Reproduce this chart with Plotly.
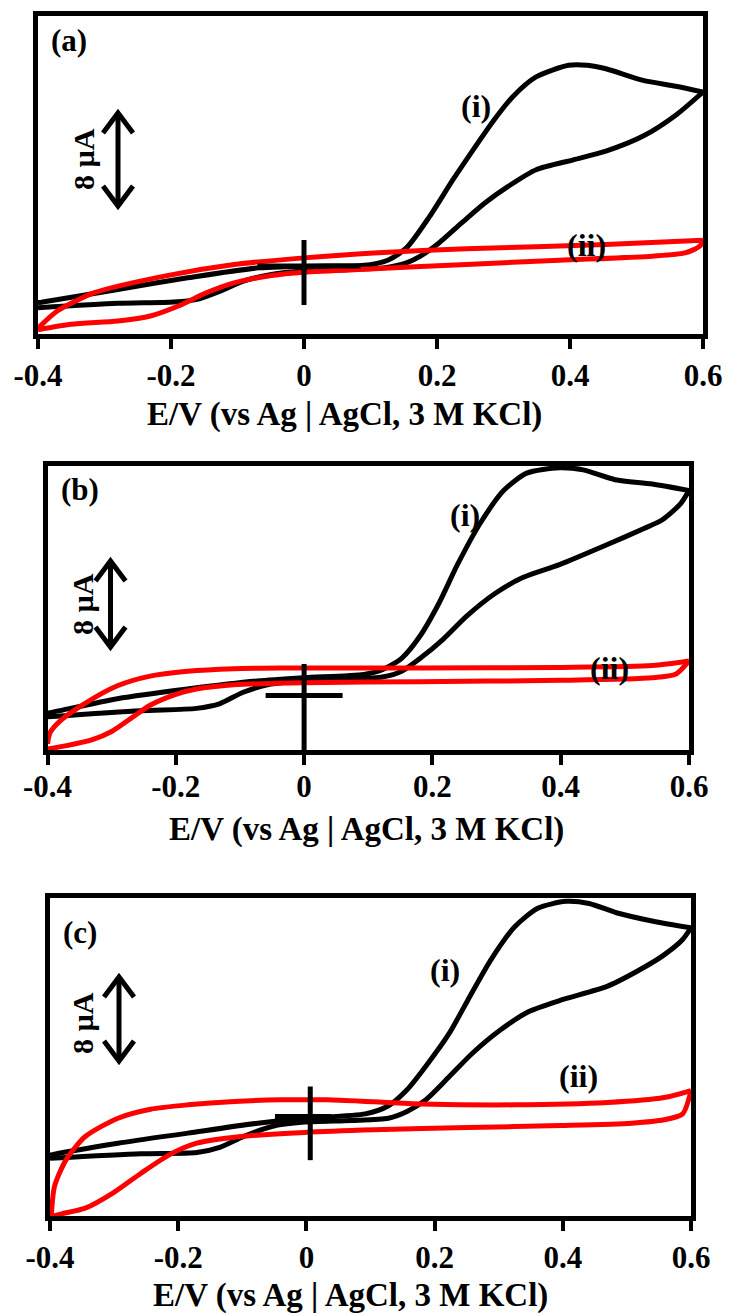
import plotly.graph_objects as go

W, H = 732, 1315
FONT = "Liberation Serif, Times New Roman, serif"

TICK_VALS = [-0.4, -0.2, 0, 0.2, 0.4, 0.6]
TICK_TEXT = ["-0.4", "-0.2", "0", "0.2", "0.4", "0.6"]
X_TITLE = "E/V (vs Ag | AgCl, 3 M KCl)"
PANEL_TAGS = ["(a)", "(b)", "(c)"]
CURVE_TAGS = ["(i)", "(ii)"]
SCALE_TEXT = "8 µA"

# ---------------- panel (a) ----------------
# curve (i): anodic sweep -0.4 -> 0.6 V, then return sweep
a_i_E_fwd = [-0.4, -0.395, -0.28, -0.175, -0.068, 0.035, 0.087, 0.126, 0.154, 0.189,
             0.224, 0.251, 0.286, 0.314, 0.349, 0.398, 0.426, 0.454, 0.51, 0.559, 0.6]
a_i_I_fwd = [-3.15, -3.12, -2.02, -1.02, -0.16, 0.0, 0.04, 0.5, 1.56, 4.28,
             7.44, 9.73, 12.6, 14.6, 16.3, 17.3, 17.3, 17.0, 16.0, 15.5, 15.0]
a_i_E_rev = [0.6, 0.559, 0.51, 0.454, 0.405, 0.349, 0.307, 0.272, 0.237, 0.203, 0.175,
             0.154, 0.119, 0.07, 0.0, -0.049, -0.091, -0.126, -0.161, -0.196, -0.28, -0.4]
a_i_I_rev = [15.0, 13.0, 11.2, 9.9, 9.15, 8.3, 6.86, 5.43, 3.71, 1.99, 0.85,
             0.27, -0.16, -0.3, -0.44, -0.73, -1.3, -2.16, -2.88, -3.11, -3.22, -3.6]
# curve (ii)
a_ii_E_rev = [0.6, 0.454, 0.244, 0.105, 0.0, -0.105, -0.21, -0.315, -0.371, -0.399]
a_ii_I_rev = [2.22, 1.85, 1.48, 1.13, 0.70, 0.13, -0.87, -2.30, -3.88, -5.31]
a_ii_E_fwd = [-0.4, -0.35, -0.28, -0.231, -0.189, -0.147, -0.105, -0.049, 0.0, 0.105,
              0.244, 0.384, 0.524, 0.573, 0.595, 0.6]
a_ii_I_fwd = [-5.5, -5.03, -4.74, -4.31, -3.45, -2.31, -1.45, -0.82, -0.53, -0.24,
              0.13, 0.5, 0.85, 1.13, 1.7, 2.22]

# ---------------- panel (b) ----------------
b_i_E_fwd = [-0.4, -0.396, -0.291, -0.182, -0.073, 0.0, 0.093, 0.122, 0.152, 0.181,
             0.21, 0.239, 0.275, 0.311, 0.347, 0.398, 0.435, 0.485, 0.543, 0.6]
b_i_I_fwd = [-1.6, -1.57, -0.30, 0.59, 1.33, 1.63, 1.93, 2.37, 3.41, 5.48,
             8.44, 12.0, 15.85, 18.8, 20.4, 20.9, 20.7, 19.8, 19.4, 18.8]
b_i_E_rev = [0.6, 0.587, 0.558, 0.529, 0.471, 0.398, 0.34, 0.297, 0.253, 0.217, 0.181,
             0.152, 0.122, 0.072, 0.0, -0.052, -0.095, -0.131, -0.168, -0.255, -0.4]
b_i_I_rev = [18.8, 17.6, 16.1, 15.3, 13.8, 12.0, 10.8, 9.33, 7.26, 5.18, 3.41,
             2.22, 1.69, 1.48, 1.33, 1.04, 0.30, -0.74, -1.18, -1.39, -1.95]
b_ii_E_rev = [0.6, 0.543, 0.398, 0.181, -0.037, -0.11, -0.182, -0.24, -0.291, -0.342,
              -0.378, -0.396, -0.4]
b_ii_I_rev = [3.17, 2.75, 2.58, 2.52, 2.52, 2.46, 2.22, 1.78, 0.89, -0.74,
              -2.22, -3.41, -4.44]
b_ii_E_fwd = [-0.4, -0.37, -0.33, -0.30, -0.27, -0.24, -0.2, -0.168, -0.11, 0.0,
              0.181, 0.398, 0.543, 0.58, 0.6]
b_ii_I_fwd = [-4.9, -4.6, -4.05, -3.3, -2.1, -0.9, 0.1, 0.59, 0.98, 1.18,
              1.27, 1.39, 1.63, 1.98, 3.17]

# ---------------- panel (c) ----------------
c_i_E_fwd = [-0.4, -0.398, -0.294, -0.185, -0.076, -0.003, 0.092, 0.128, 0.157, 0.186,
             0.223, 0.252, 0.288, 0.325, 0.361, 0.405, 0.441, 0.485, 0.543, 0.6]
c_i_I_fwd = [-3.65, -3.62, -2.52, -1.57, -0.63, -0.16, 0.25, 1.01, 2.52, 4.72,
             7.86, 11.0, 14.8, 17.9, 19.65, 20.3, 20.1, 19.2, 18.4, 17.8]
c_i_E_rev = [0.6, 0.587, 0.558, 0.529, 0.47, 0.398, 0.347, 0.303, 0.259, 0.223, 0.186,
             0.157, 0.128, 0.07, -0.003, -0.054, -0.098, -0.134, -0.171, -0.258, -0.4]
c_i_I_rev = [17.8, 16.7, 15.25, 14.15, 12.3, 11.0, 9.9, 8.18, 5.97, 3.77, 1.57,
             0.47, -0.16, -0.38, -0.53, -0.94, -1.89, -2.89, -3.40, -3.52, -3.95]
c_ii_E_rev = [0.6, 0.558, 0.47, 0.325, 0.179, 0.106, 0.033, -0.039, -0.112, -0.185,
              -0.243, -0.294, -0.345, -0.375, -0.393, -0.398]
c_ii_I_rev = [2.45, 1.79, 1.32, 1.10, 1.19, 1.38, 1.57, 1.57, 1.42, 1.10,
              0.69, -0.16, -1.89, -4.09, -6.60, -9.43]
c_ii_E_fwd = [-0.398, -0.382, -0.345, -0.302, -0.258, -0.214, -0.171, -0.112, -0.003,
              0.106, 0.252, 0.398, 0.507, 0.558, 0.587, 0.6]
c_ii_I_fwd = [-9.43, -9.18, -8.65, -7.23, -5.35, -3.62, -2.52, -1.95, -1.51,
              -1.26, -1.04, -0.85, -0.63, -0.31, 0.25, 2.45]

BLACK = "#000000"
RED = "#ff0000"

# frame edges in px (left, right, top, bottom), current zero in px, px per µA
panels = [
    dict(frame=(37, 704, 13.5, 336), zero=266, s=11.6,
         curves=[(a_i_E_fwd, a_i_I_fwd, BLACK), (a_i_E_rev, a_i_I_rev, BLACK),
                 (a_ii_E_rev, a_ii_I_rev, RED), (a_ii_E_fwd, a_ii_I_fwd, RED)],
         cross=dict(v=(-3.36, 2.24), h=(-0.07, 0.085), x0=0.0),
         tag=(69, 40), title=(344, 414), standoff=0,
         scale=dict(tx=83, ty=159, ax=118, top=113, bot=206),
         i_pos=(476, 106), ii_pos=(586, 245)),
    dict(frame=(46.5, 690, 464, 752), zero=695.5, s=10.9,
         curves=[(b_i_E_fwd, b_i_I_fwd, BLACK), (b_i_E_rev, b_i_I_rev, BLACK),
                 (b_ii_E_rev, b_ii_I_rev, RED), (b_ii_E_fwd, b_ii_I_fwd, RED)],
         cross=dict(v=(-5.2, 2.89), h=(-0.06, 0.06), x0=0.0),
         tag=(80, 489), title=(367, 829), standoff=-5,
         scale=dict(tx=82, ty=604, ax=110.5, top=561, bot=647),
         i_pos=(465, 515), ii_pos=(609, 668)),
    dict(frame=(49, 692, 896, 1218), zero=1116.5, s=10.6,
         curves=[(c_i_E_fwd, c_i_I_fwd, BLACK), (c_i_E_rev, c_i_I_rev, BLACK),
                 (c_ii_E_rev, c_ii_I_rev, RED), (c_ii_E_fwd, c_ii_I_fwd, RED)],
         cross=dict(v=(-4.12, 2.83), h=(-0.049, 0.039), x0=0.006),
         tag=(80, 932), title=(350, 1295), standoff=0,
         scale=dict(tx=82, ty=1023, ax=119, top=977, bot=1061),
         i_pos=(445, 970), ii_pos=(578, 1076)),
]


def px(x):
    return x / W


def py(y):
    return 1 - y / H


fig = go.Figure()
shapes, annotations = [], []
LW = 5

for k, p in enumerate(panels):
    xa = "x" if k == 0 else f"x{k + 1}"
    ya = "y" if k == 0 else f"y{k + 1}"
    l, r, t, b = p["frame"]
    for E, I, col in p["curves"]:
        fig.add_trace(go.Scatter(
            x=E, y=I, mode="lines", xaxis=xa, yaxis=ya,
            line=dict(color=col, width=LW, shape="spline", smoothing=0.7),
            showlegend=False, hoverinfo="skip"))

    fig.layout["xaxis" if k == 0 else f"xaxis{k + 1}"] = dict(
        domain=[px(l + 1), px(r - 1)], range=[-0.4, 0.6], anchor=ya,
        tickmode="array", tickvals=TICK_VALS, ticktext=TICK_TEXT,
        ticks="outside", ticklen=10, tickwidth=4, tickcolor="black",
        ticklabelstandoff=p["standoff"],
        showline=True, linewidth=4.5, linecolor="black", mirror=True,
        showgrid=False, zeroline=False, automargin=False,
        tickfont=dict(family=FONT, size=31, color="black", weight="bold"))
    fig.layout["yaxis" if k == 0 else f"yaxis{k + 1}"] = dict(
        domain=[py(b - 2), py(t + 2)],
        range=[(p["zero"] - (b - 2)) / p["s"], (p["zero"] - (t + 2)) / p["s"]],
        anchor=xa, showline=True, linewidth=4.5, linecolor="black", mirror=True,
        showticklabels=False, ticks="", showgrid=False, zeroline=False,
        automargin=False)

    # reference cross at the origin
    c = p["cross"]
    shapes.append(dict(type="line", xref=xa, yref=ya, x0=c["x0"], x1=c["x0"],
                       y0=c["v"][0], y1=c["v"][1], line=dict(color="black", width=LW)))
    shapes.append(dict(type="line", xref=xa, yref=ya, x0=c["h"][0], x1=c["h"][1],
                       y0=0, y1=0, line=dict(color="black", width=LW)))

    # current scale bar with chevron heads
    sc = p["scale"]
    ax_, top, bot = sc["ax"], sc["top"], sc["bot"]
    shapes.append(dict(type="line", xref="paper", yref="paper",
                       x0=px(ax_), x1=px(ax_), y0=py(top + 2), y1=py(bot - 2),
                       line=dict(color="black", width=LW)))
    for apex, d in ((top, 1), (bot, -1)):
        path = (f"M {px(ax_ - 15)},{py(apex + 20 * d)} L {px(ax_)},{py(apex)} "
                f"L {px(ax_ + 15)},{py(apex + 20 * d)}")
        shapes.append(dict(type="path", xref="paper", yref="paper", path=path,
                           line=dict(color="black", width=LW)))
    annotations.append(dict(text=f"<b>{SCALE_TEXT}</b>", x=px(sc["tx"]), y=py(sc["ty"]),
                            xref="paper", yref="paper", showarrow=False, textangle=-90,
                            xanchor="center", yanchor="middle",
                            font=dict(family=FONT, size=30, color="black")))

    annotations.append(dict(text=f"<b>{PANEL_TAGS[k]}</b>", x=px(p["tag"][0]), y=py(p["tag"][1]),
                            xref="paper", yref="paper", showarrow=False,
                            xanchor="center", yanchor="middle",
                            font=dict(family=FONT, size=31, color="black")))
    annotations.append(dict(text=f"<b>{X_TITLE}</b>", x=px(p["title"][0]), y=py(p["title"][1]),
                            xref="paper", yref="paper", showarrow=False,
                            xanchor="center", yanchor="middle",
                            font=dict(family=FONT, size=33, color="black")))
    for tag, pos in zip(CURVE_TAGS, (p["i_pos"], p["ii_pos"])):
        annotations.append(dict(text=f"<b>{tag}</b>", x=px(pos[0]), y=py(pos[1]),
                                xref="paper", yref="paper", showarrow=False,
                                xanchor="center", yanchor="middle",
                                font=dict(family=FONT, size=32, color="black")))

fig.update_layout(width=W, height=H,
                  margin=dict(l=0, r=0, t=0, b=0, pad=0, autoexpand=False),
                  paper_bgcolor="white", plot_bgcolor="white",
                  shapes=shapes, annotations=annotations, showlegend=False)

fig.write_html("out.html")
